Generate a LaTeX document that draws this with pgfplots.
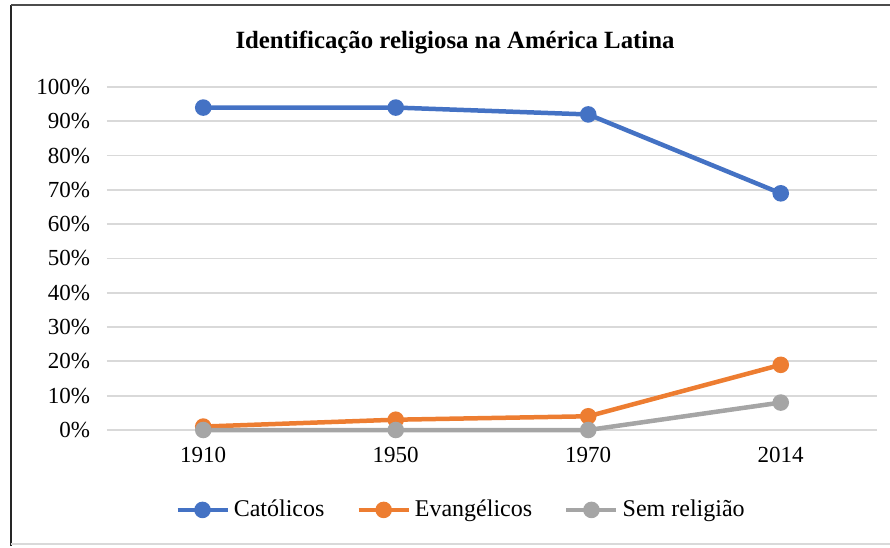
\documentclass[border=0pt]{standalone}
\usepackage{pgfplots}
\pgfplotsset{compat=1.18}
\usepackage{fontspec}
\setmainfont{Liberation Serif}
\definecolor{cblue}{HTML}{4472C4}
\definecolor{corange}{HTML}{ED7D31}
\definecolor{cgray}{HTML}{A5A5A5}
\definecolor{cgrid}{HTML}{D9D9D9}
\begin{document}
\begin{tikzpicture}
\useasboundingbox (0,0) rectangle (445pt,273.5pt);
\draw[black!85, line width=1pt] (5.5pt,0.5pt) -- (5.5pt,271pt);
\draw[black!70, line width=1pt] (5.5pt,271pt) -- (445pt,271pt);
\draw[cgrid, line width=1pt] (5.5pt,1.5pt) -- (445pt,1.5pt);
\node[font=\rmfamily\fontsize{12.4}{14}\selectfont\bfseries] at (227.5pt,252pt) {Identificação religiosa na América Latina};
\begin{axis}[
  at={(53.5pt,58.5pt)}, anchor=south west,
  scale only axis, width=385pt, height=171.5pt,
  xmin=-0.5, xmax=3.5, ymin=0, ymax=100,
  xtick={0,1,2,3}, xticklabels={1910,1950,1970,2014},
  ytick={0,10,...,100},
  yticklabels={0\%,10\%,20\%,30\%,40\%,50\%,60\%,70\%,80\%,90\%,100\%},
  ymajorgrids, grid style={cgrid, line width=0.9pt},
  axis line style={draw=none},
  major tick length=0pt,
  tick label style={font=\rmfamily\fontsize{11.5}{13}\selectfont},
  xticklabel style={yshift=-5pt},
  yticklabel style={xshift=-5pt},
  clip=false,
  legend columns=3,
  legend style={at={(0.461,-0.233)}, anchor=center, draw=none, fill=none,
    font=\rmfamily\fontsize{12}{14}\selectfont,
    /tikz/every even column/.append style={column sep=14pt},
    inner xsep=0pt},
  legend cell align=left,
  legend image code/.code={\draw[mark repeat=2,mark phase=2] plot coordinates {(0pt,0pt) (12.5pt,0pt) (25pt,0pt)};},
  every axis plot/.append style={line width=2.25pt, mark=*, mark size=3pt, mark options={solid}},
]
\addplot[color=cblue] coordinates {(0,94) (1,94) (2,92) (3,69)};
\addlegendentry{Católicos}
\addplot[color=corange] coordinates {(0,1) (1,3) (2,4) (3,19)};
\addlegendentry{Evangélicos}
\addplot[color=cgray] coordinates {(0,0) (1,0) (2,0) (3,8)};
\addlegendentry{Sem religião}
\end{axis}
\end{tikzpicture}
\end{document}
